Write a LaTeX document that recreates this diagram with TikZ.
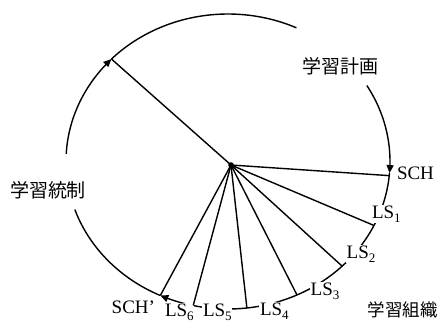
\documentclass[tikz,border=0pt]{standalone}
\usepackage{fontspec}
\setmainfont{Liberation Serif}
\newfontfamily\cjk{Noto Sans CJK JP}
\usetikzlibrary{arrows.meta}
\newcommand{\ecx}{228}
\newcommand{\ecy}{161.5}
\newcommand{\erx}{162}
\newcommand{\ery}{147.5}
\newcommand{\lsub}[1]{\raisebox{-4pt}{\fontsize{13}{13}\selectfont #1}}
\tikzset{
  rim/.style={line width=1.4pt},
  ray/.style={line width=1.4pt},
  tip/.style={-{Triangle[length=8pt,width=7pt]}},
  lab/.style={font=\fontsize{19}{19}\selectfont, inner sep=0.8pt, anchor=base west, fill=white},
  cjklab/.style={font=\cjk\fontsize{19}{19}\selectfont, inner sep=0pt}
}
\begin{document}
\begin{tikzpicture}[x=1pt,y=-1pt]
\useasboundingbox (0,0) rectangle (445,322);
% rim arcs (clockwise on screen)
\draw[rim,tip] plot[domain=177:136,samples=40] ({\ecx+\erx*cos(\x)},{\ecy-\ery*sin(\x)});
\draw[rim] plot[domain=136:65,samples=60] ({\ecx+\erx*cos(\x)},{\ecy-\ery*sin(\x)});
\draw[rim,tip] plot[domain=31:-4.5,samples=40] ({\ecx+\erx*cos(\x)},{\ecy-\ery*sin(\x)});
\draw[rim,tip] plot[domain=-4.5:-114.7,samples=100] ({\ecx+\erx*cos(\x)},{\ecy-\ery*sin(\x)});
\draw[rim] plot[domain=-114.7:-161,samples=50] ({\ecx+\erx*cos(\x)},{\ecy-\ery*sin(\x)});
% labels on the rim
\node[lab] (tsch) at (396,179) {SCH};
\node[lab] (tls1) at (371,218.3) {LS\lsub{1}};
\node[lab] (tls2) at (345.7,258) {LS\lsub{2}};
\node[lab] (tls3) at (309.7,295) {LS\lsub{3}};
\node[lab] (tls4) at (259,315) {LS\lsub{4}};
\node[lab] (tls5) at (202,316) {LS\lsub{5}};
\node[lab] (tls6) at (164,316) {LS\lsub{6}};
\node[lab] (tschp) at (110.7,313.3) {SCH'};
% phase labels
\node[cjklab] (plan) at (340,66.5) {学習計画};
\node[cjklab] (ctrl) at (48,190) {学習統制};
\node[cjklab, font=\cjk\fontsize{17.5}{17.5}\selectfont] (org) at (402.5,310) {学習組織};
% centre and ray ends
\coordinate (O) at (231,165);
\coordinate (eTop) at ({\ecx+\erx*cos(136)},{\ecy-\ery*sin(136)});
\coordinate (eSch) at ({\ecx+\erx*cos(-5.5)},{\ecy-\ery*sin(-5.5)});
\coordinate (eLs1) at ({\ecx+\erx*cos(-25.7)},{\ecy-\ery*sin(-25.7)});
\coordinate (eLs2) at ({\ecx+\erx*cos(-45.2)},{\ecy-\ery*sin(-45.2)});
\coordinate (eLs3) at ({\ecx+\erx*cos(-64.8)},{\ecy-\ery*sin(-64.8)});
\coordinate (eLs4) at ({\ecx+\erx*cos(-83.3)},{\ecy-\ery*sin(-83.3)});
\coordinate (eLs5) at ({\ecx+\erx*cos(-102.4)},{\ecy-\ery*sin(-102.4)});
\coordinate (eSchp) at ({\ecx+\erx*cos(-114.7)},{\ecy-\ery*sin(-114.7)});
\foreach \e in {eTop,eSch,eLs1,eLs2,eLs3,eLs4,eLs5,eSchp}
  \draw[ray] (O) -- (\e);
\fill (O) circle (2.8);
\end{tikzpicture}
\end{document}
